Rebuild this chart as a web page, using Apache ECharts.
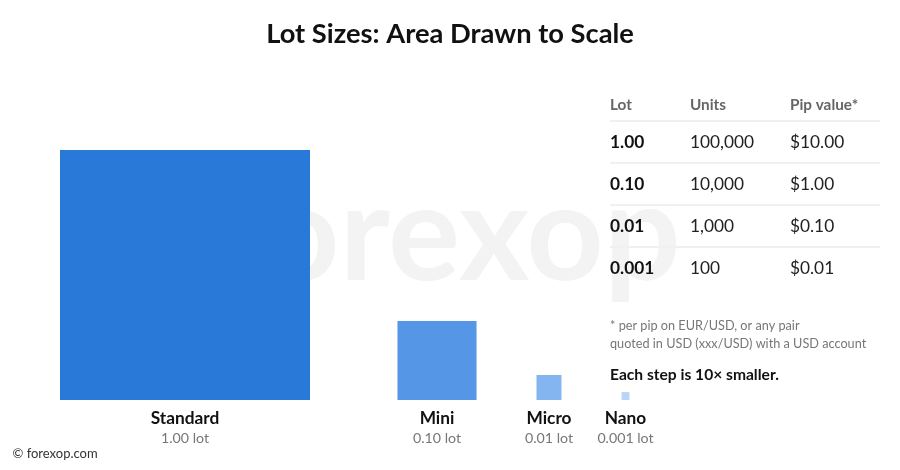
<!DOCTYPE html>
<html>
<head>
<meta charset="utf-8">
<style>html,body{margin:0;padding:0;background:#fff}#c{width:900px;height:470px}</style>
<script src="https://cdn.jsdelivr.net/npm/echarts@6/dist/echarts.min.js"></script>
</head>
<body>
<div id="c"></div>
<script>
var chartTitle = 'Lot Sizes: Area Drawn to Scale';
var lotNames = ['Standard', 'Mini', 'Micro', 'Nano'];
var lotLabels = ['1.00 lot', '0.10 lot', '0.01 lot', '0.001 lot'];
var lotAreas = [1, 0.1, 0.01, 0.001];
var lotCentres = [0.5, 1.508, 1.956, 2.262];
var lotColors = ['#2979d9', '#5596e6', '#85b5f0', '#b8d4f8'];
var tableHead = ['Lot', 'Units', 'Pip value*'];
var tableLots = ['1.00', '0.10', '0.01', '0.001'];
var tableUnits = ['100,000', '10,000', '1,000', '100'];
var tablePips = ['$10.00', '$1.00', '$0.10', '$0.01'];
var notes = ['* per pip on EUR/USD, or any pair', 'quoted in USD (xxx/USD) with a USD account'];
var stepNote = 'Each step is 10\u00d7 smaller.';
var credit = '\u00a9 forexop.com';
var watermark = 'forexop';

var FONT = 'Lato';
function txt(x, y, s, size, weight, color, align) {
  return { type: 'text', x: x, y: y, silent: true, style: {
    text: s, fontFamily: FONT, fontSize: size, fontWeight: weight, fill: color,
    textAlign: align || 'left', textVerticalAlign: 'middle' } };
}
var cols = [610, 690, 790];
var els = [txt(448, 236, watermark, 135, 700, '#f3f3f3', 'center')];
tableHead.forEach(function (h, i) { els.push(txt(cols[i], 105, h, 15.3, 700, '#666666')); });
[121, 163, 205, 247].forEach(function (y) {
  els.push({ type: 'rect', silent: true, shape: { x: 610, y: y - 1, width: 270, height: 2 }, style: { fill: '#f0f0f0' } });
});
tableLots.forEach(function (v, i) {
  var y = 142.5 + i * 42;
  els.push(txt(cols[0], y, v, 17.3, 700, '#111111'));
  els.push(txt(cols[1], y, tableUnits[i], 17.3, 400, '#222222'));
  els.push(txt(cols[2], y, tablePips[i], 17.3, 400, '#222222'));
});
els.push(txt(610, 326, notes[0], 12.7, 400, '#777777'));
els.push(txt(610, 344, notes[1], 12.7, 400, '#777777'));
els.push(txt(610, 375, stepNote, 15.6, 700, '#111111'));
els.push(txt(12.5, 453.5, credit, 13, 400, '#333333'));

var chart = echarts.init(document.getElementById('c'), null, { renderer: 'canvas' });
chart.setOption({
  animation: false,
  backgroundColor: '#ffffff',
  title: { text: chartTitle, left: 'center', top: 16, textStyle: { fontFamily: FONT, fontSize: 27.3, fontWeight: 700, color: '#111111' } },
  grid: { left: 60, top: 150, width: 600, height: 250 },
  xAxis: { type: 'value', min: 0, max: 2.4, show: false },
  yAxis: { type: 'value', min: 0, max: 1, show: false },
  graphic: { elements: els },
  series: [{
    type: 'custom',
    coordinateSystem: 'cartesian2d',
    clip: false,
    silent: true,
    encode: { x: 0, y: 1 },
    data: lotAreas.map(function (a, i) { return [lotCentres[i], Math.sqrt(a), i]; }),
    renderItem: function (params, api) {
      var side = api.value(1), i = api.value(2);
      var p = api.coord([api.value(0), 0]);
      var s = api.size([side, side]);
      return { type: 'group', children: [
        { type: 'rect', shape: { x: p[0] - s[0] / 2, y: p[1] - s[1], width: s[0], height: s[1] }, style: { fill: lotColors[i] } },
        { type: 'text', style: { x: p[0], y: p[1] + 18.5, text: lotNames[i], fontFamily: FONT, fontSize: 17.3, fontWeight: 700, fill: '#111111', textAlign: 'center', textVerticalAlign: 'middle' } },
        { type: 'text', style: { x: p[0], y: p[1] + 38.5, text: lotLabels[i], fontFamily: FONT, fontSize: 14.2, fontWeight: 400, fill: '#777777', textAlign: 'center', textVerticalAlign: 'middle' } }
      ] };
    }
  }]
});
</script>
</body>
</html>
